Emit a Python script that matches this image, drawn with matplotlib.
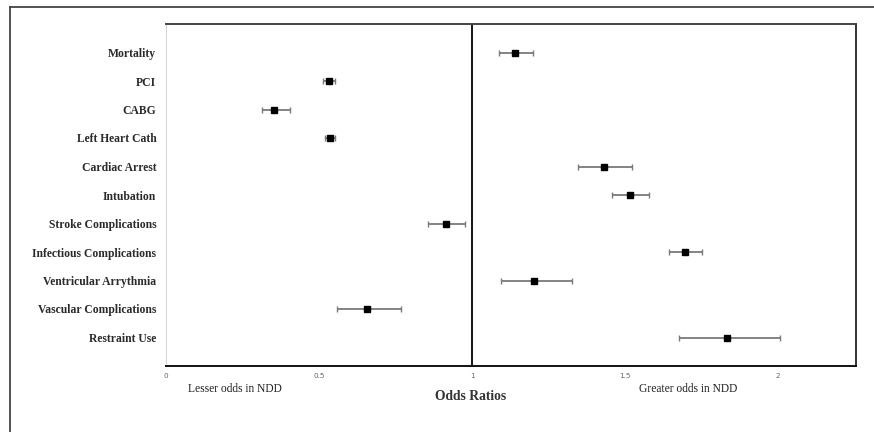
import numpy as np
import matplotlib
matplotlib.use("Agg")
import matplotlib.pyplot as plt
from matplotlib.lines import Line2D

# === Data (top to bottom) ===
outcomes = ["Mortality", "PCI", "CABG", "Left Heart Cath", "Cardiac Arrest",
            "Intubation", "Stroke Complications", "Infectious Complications",
            "Ventricular Arrythmia", "Vascular Complications", "Restraint Use"]
odds_ratio = [1.14, 0.533, 0.354, 0.536, 1.432, 1.516, 0.915, 1.695, 1.204, 0.656, 1.832]
ci_low = [1.089, 0.513, 0.313, 0.521, 1.345, 1.459, 0.857, 1.643, 1.094, 0.560, 1.675]
ci_high = [1.198, 0.552, 0.405, 0.552, 1.523, 1.577, 0.978, 1.752, 1.326, 0.768, 2.005]
x_ticks = [0, 0.5, 1, 1.5, 2]

W, H = 874, 432

def fx(px):
    return px / W

def fy(py):
    return 1 - py / H

fig = plt.figure(figsize=(W / 100, H / 100), dpi=100)
ax = fig.add_axes([fx(166), fy(366), fx(856) - fx(166), fy(24) - fy(366)])

n = len(outcomes)
ypos = np.arange(n, 0, -1)
orr = np.array(odds_ratio)
err = [orr - np.array(ci_low), np.array(ci_high) - orr]

ax.errorbar(orr, ypos, xerr=err, fmt='s', color='black', markersize=5,
            ecolor='#7a7a7a', elinewidth=1.3, capsize=2.2, capthick=1.0)
ax.axvline(1, color='black', linewidth=1.3)

ax.set_xlim(0, 2.255)
ax.set_ylim(0, n + 1)
ax.set_yticks(ypos)
ax.set_yticklabels(outcomes, fontfamily='Liberation Serif', fontweight='bold',
                   fontsize=8.4, color='#2a2a2a')
ax.set_xticks(x_ticks)
ax.set_xticklabels([str(t) for t in x_ticks], fontsize=5.2, color='#666666')
ax.tick_params(axis='y', length=0, pad=7)
ax.tick_params(axis='x', length=0, pad=5)

ax.spines['left'].set_color('#cccccc')
ax.spines['left'].set_linewidth(0.6)
ax.spines['top'].set_color('#444444')
ax.spines['top'].set_linewidth(1.4)
ax.spines['bottom'].set_color('#111111')
ax.spines['bottom'].set_linewidth(1.4)
ax.spines['right'].set_color('#111111')
ax.spines['right'].set_linewidth(1.2)

fig.text(fx(235), fy(389), "Lesser odds in NDD", ha='center', va='center',
         fontfamily='Liberation Serif', fontsize=8.3, color='#222222')
fig.text(fx(688), fy(389), "Greater odds in NDD", ha='center', va='center',
         fontfamily='Liberation Serif', fontsize=8.3, color='#222222')
fig.text(fx(471), fy(397), "Odds Ratios", ha='center', va='center',
         fontfamily='Liberation Serif', fontweight='bold', fontsize=9.8, color='#333333')

# outer frame (only top and left visible)
fig.add_artist(Line2D([fx(10), fx(10)], [fy(7), 0], color='#444444', linewidth=1.3))
fig.add_artist(Line2D([fx(10), 1], [fy(7), fy(7)], color='#444444', linewidth=1.3))

fig.savefig("out.png", dpi=100)
